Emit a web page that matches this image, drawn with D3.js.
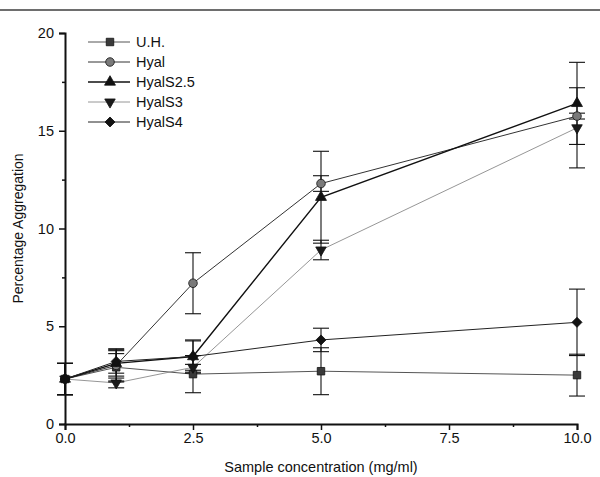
<!DOCTYPE html>
<html>
<head>
<meta charset="utf-8">
<script src="https://cdn.jsdelivr.net/npm/d3@7"></script>
<style>
  html, body { margin: 0; padding: 0; background: #fff; }
  svg { display: block; font-family: "Liberation Sans", Arial, sans-serif; }
</style>
</head>
<body>
<svg id="chart" width="600" height="477"></svg>
<script>
// Sample concentrations (mg/ml)
const concentrations = [0, 1, 2.5, 5, 10];

// Mean percentage aggregation and error (±) per series
const uhMean    = [2.3, 2.9, 2.55, 2.7, 2.5];
const uhErr     = [0.8, 0.7, 0.95, 1.2, 1.07];
const hyalMean  = [2.3, 3.0, 7.2, 12.3, 15.75];
const hyalErr   = [0.8, 0.85, 1.56, 0.4, 0.15];
const s25Mean   = [2.3, 3.1, 3.45, 11.6, 16.4];
const s25Err    = [0.8, 0.65, 0.8, 2.35, 2.1];
const s3Mean    = [2.3, 2.1, 2.9, 8.9, 15.15];
const s3Err     = [0.8, 0.25, 0.15, 0.5, 2.05];
const s4Mean    = [2.3, 3.2, 3.45, 4.3, 5.2];
const s4Err     = [0.8, 0.6, 0.85, 0.6, 1.7];

const seriesNames = ["U.H.", "Hyal", "HyalS2.5", "HyalS3", "HyalS4"];

// Axis ticks
const xMajorTicks = [0, 2.5, 5, 7.5, 10];
const xMinorTicks = [1.25, 3.75, 6.25, 8.75];
const yMajorTicks = [0, 5, 10, 15, 20];
const yMinorTicks = [2.5, 7.5, 12.5, 17.5];

const xTitle = "Sample concentration (mg/ml)";
const yTitle = "Percentage Aggregation";

// Per-series drawing styles
const styles = [
  { mean: uhMean,   err: uhErr,   symbol: "square",   fill: "#3a3a3a", line: "#555", lw: 1.0 },
  { mean: hyalMean, err: hyalErr, symbol: "circle",   fill: "#7a7a7a", line: "#333", lw: 1.0 },
  { mean: s25Mean,  err: s25Err,  symbol: "triangle", fill: "#111",    line: "#111", lw: 1.4 },
  { mean: s3Mean,   err: s3Err,   symbol: "invtri",   fill: "#1a1a1a", line: "#8a8a8a", lw: 0.9 },
  { mean: s4Mean,   err: s4Err,   symbol: "diamond",  fill: "#111",    line: "#222", lw: 1.0 }
];

const series = seriesNames.map((name, i) => ({
  name,
  ...styles[i],
  points: concentrations.map((c, j) => ({ x: c, y: styles[i].mean[j], e: styles[i].err[j] }))
}));

const svg = d3.select("#chart");

const x = d3.scaleLinear().domain([0, 10]).range([65, 577]);
const y = d3.scaleLinear().domain([0, 20]).range([424, 33]);

// Page rule along the top
svg.append("line")
  .attr("x1", 0).attr("x2", 600).attr("y1", 10).attr("y2", 10)
  .attr("stroke", "#6e6e6e").attr("stroke-width", 2);

function symbolPath(kind) {
  switch (kind) {
    case "square":   return d3.symbol(d3.symbolSquare, 56)();
    case "circle":   return d3.symbol(d3.symbolCircle, 58)();
    case "triangle": return d3.symbol(d3.symbolTriangle, 52)();
    case "invtri":   return d3.symbol(d3.symbolTriangle, 48)();
    case "diamond":  return d3.symbol(d3.symbolSquare, 50)();
  }
}
function symbolRotate(kind) {
  if (kind === "invtri") return " rotate(180)";
  if (kind === "diamond") return " rotate(45)";
  return "";
}

// Axes
const axisFont = 14.5;
svg.append("g").attr("transform", `translate(${x(0)},0)`)
  .call(d3.axisLeft(y).tickValues(yMajorTicks).tickSize(6).tickPadding(5).tickFormat(d3.format("d")));
svg.append("g").attr("transform", `translate(${x(0)},0)`)
  .call(d3.axisLeft(y).tickValues(yMinorTicks).tickSize(3).tickFormat(""))
  .call(g => g.select(".domain").remove());

svg.append("g").attr("transform", `translate(0,${y(0)})`)
  .call(d3.axisBottom(x).tickValues(xMajorTicks).tickSize(6).tickPadding(3).tickFormat(d3.format(".1f")));
svg.append("g").attr("transform", `translate(0,${y(0)})`)
  .call(d3.axisBottom(x).tickValues(xMinorTicks).tickSize(3).tickFormat(""))
  .call(g => g.select(".domain").remove());

svg.selectAll(".domain").attr("stroke", "#111").attr("stroke-width", 2);
svg.selectAll(".tick line").attr("stroke", "#111").attr("stroke-width", 1.5);
svg.selectAll(".tick text").attr("font-size", axisFont).attr("fill", "#111")
  .attr("font-family", "'Liberation Sans', Arial, sans-serif");

// Axis titles
svg.append("text")
  .attr("x", (x(0) + x(10)) / 2).attr("y", 472)
  .attr("text-anchor", "middle").attr("font-size", 14.5).attr("fill", "#111")
  .text(xTitle);
svg.append("text")
  .attr("transform", `translate(23,${(y(0) + y(20)) / 2}) rotate(-90)`)
  .attr("text-anchor", "middle").attr("font-size", 14).attr("fill", "#111")
  .text(yTitle);

// Connecting lines
const line = d3.line().x(d => x(d.x)).y(d => y(d.y));
svg.append("g").selectAll("path").data(series).join("path")
  .attr("d", d => line(d.points))
  .attr("fill", "none")
  .attr("stroke", d => d.line)
  .attr("stroke-width", d => d.lw);

// Error bars
const capHalf = 8;
const eb = svg.append("g").attr("stroke", "#111").attr("stroke-width", 1.1);
series.forEach(s => {
  s.points.forEach(p => {
    const cx = x(p.x), top = y(p.y + p.e), bot = y(p.y - p.e);
    eb.append("line").attr("x1", cx).attr("x2", cx).attr("y1", top).attr("y2", bot);
    eb.append("line").attr("x1", cx - capHalf).attr("x2", cx + capHalf).attr("y1", top).attr("y2", top);
    eb.append("line").attr("x1", cx - capHalf).attr("x2", cx + capHalf).attr("y1", bot).attr("y2", bot);
  });
});

// Markers
series.forEach(s => {
  svg.append("g").selectAll("path").data(s.points).join("path")
    .attr("d", symbolPath(s.symbol))
    .attr("transform", d => `translate(${x(d.x)},${y(d.y)})${symbolRotate(s.symbol)}`)
    .attr("fill", s.fill)
    .attr("stroke", "#111")
    .attr("stroke-width", 0.8);
});

// Legend
const legend = svg.append("g");
series.forEach((s, i) => {
  const ly = 42 + i * 20;
  legend.append("line").attr("x1", 88).attr("x2", 130).attr("y1", ly).attr("y2", ly)
    .attr("stroke", s.line).attr("stroke-width", s.lw);
  legend.append("path")
    .attr("d", symbolPath(s.symbol))
    .attr("transform", `translate(110,${ly})${symbolRotate(s.symbol)}`)
    .attr("fill", s.fill).attr("stroke", "#111").attr("stroke-width", 0.8);
  legend.append("text")
    .attr("x", 136).attr("y", ly).attr("dy", "0.36em")
    .attr("font-size", 14.5).attr("fill", "#111")
    .text(s.name);
});
</script>
</body>
</html>
